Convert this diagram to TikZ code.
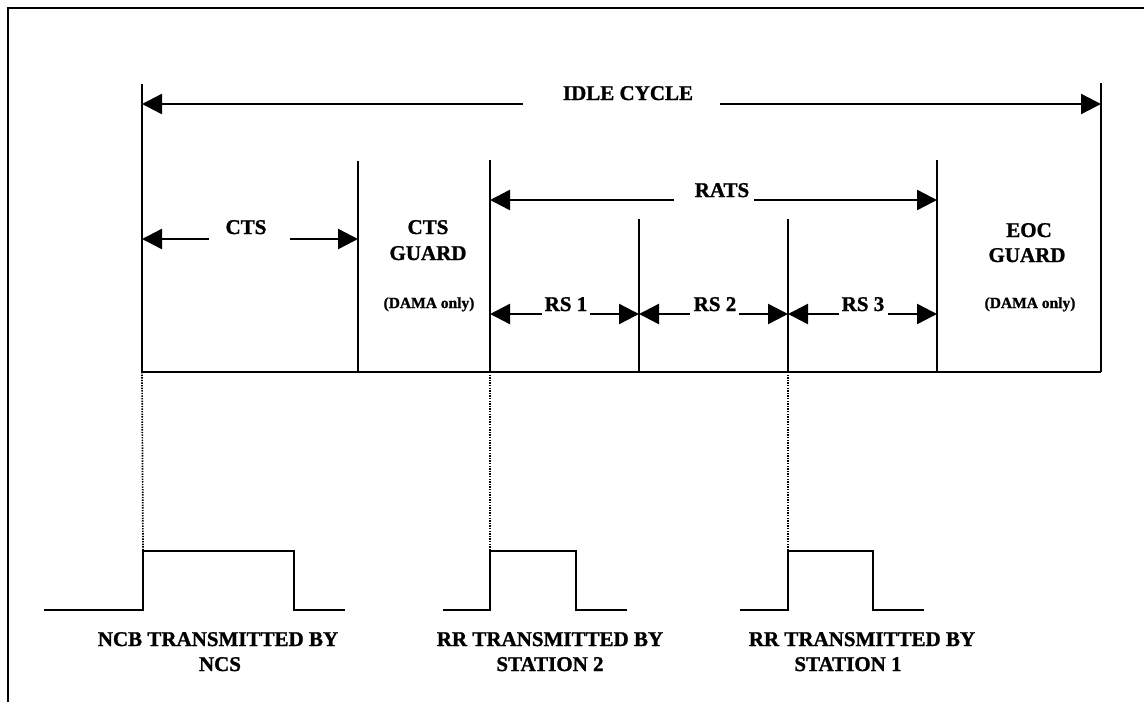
\documentclass[tikz,border=0pt]{standalone}
\usepackage{fontspec}
\setmainfont{Liberation Serif}[BoldFeatures={FakeBold=1.2}]
\usetikzlibrary{arrows.meta}
\begin{document}
\begin{tikzpicture}[x=1pt,y=-1pt,
  ln/.style={line width=2.4pt},
  dimarr/.style={line width=2.4pt,-{Triangle[length=20pt,width=20pt]}},
  dotline/.style={line width=1.7pt,dash pattern=on 1.4pt off 1.2pt},
  pulse/.style={line width=2.4pt,line join=miter},
  lbl/.style={font=\bfseries\fontsize{21}{24}\selectfont,inner sep=0pt,anchor=base},
  smalllbl/.style={font=\bfseries\fontsize{15.5}{18}\selectfont,inner sep=0pt,anchor=base}]
\useasboundingbox (0,0) rectangle (1144,702);
% frame (left and top edges)
\coordinate (fBL) at (8,702);
\coordinate (fTL) at (8,8);
\coordinate (fTR) at (1144,8);
\draw[ln,line join=miter] (fBL) -- (fTL) -- (fTR);
% division lines
\coordinate (t0) at (142,84);  \coordinate (b0) at (142,372);
\coordinate (t1) at (358,161); \coordinate (b1) at (358,372);
\coordinate (t2) at (490,160); \coordinate (b2) at (490,372);
\coordinate (t3) at (639,219); \coordinate (b3) at (639,372);
\coordinate (t4) at (788,219); \coordinate (b4) at (788,372);
\coordinate (t5) at (937,160); \coordinate (b5) at (937,372);
\coordinate (t6) at (1101,83); \coordinate (b6) at (1101,372);
\foreach \i in {0,...,6} {\draw[ln] (t\i) -- (b\i);}
\draw[ln] (b0) -- (b6);
% IDLE CYCLE
\node[lbl] (idle) at (628,100) {IDLE CYCLE};
\coordinate (iL) at (142,104); \coordinate (iLe) at (523,104);
\coordinate (iR) at (1101,104); \coordinate (iRe) at (720,104);
\draw[dimarr] (iLe) -- (iL);
\draw[dimarr] (iRe) -- (iR);
% RATS
\node[lbl] (rats) at (722,197) {RATS};
\coordinate (rL) at (490,200); \coordinate (rLe) at (674,200);
\coordinate (rR) at (937,200); \coordinate (rRe) at (754,200);
\draw[dimarr] (rLe) -- (rL);
\draw[dimarr] (rRe) -- (rR);
% CTS
\node[lbl] (cts) at (246,234) {CTS};
\coordinate (cL) at (142,239); \coordinate (cLe) at (209,239);
\coordinate (cR) at (358,239); \coordinate (cRe) at (290,239);
\draw[dimarr] (cLe) -- (cL);
\draw[dimarr] (cRe) -- (cR);
% CTS GUARD
\node[lbl] (cg1) at (428,234) {CTS};
\node[lbl] (cg2) at (428,260) {GUARD};
\node[smalllbl] (cg3) at (429,308) {(DAMA only)};
% EOC GUARD
\node[lbl] (eg1) at (1029,237) {EOC};
\node[lbl] (eg2) at (1027,262) {GUARD};
\node[smalllbl] (eg3) at (1030,308) {(DAMA only)};
% RS 1..3
\node[lbl] (rs1) at (566,311) {RS 1};
\node[lbl] (rs2) at (715,311) {RS 2};
\node[lbl] (rs3) at (863,311) {RS 3};
\coordinate (s1L) at (490,314); \coordinate (s1Le) at (542,314);
\coordinate (s1R) at (639,314); \coordinate (s1Re) at (590,314);
\coordinate (s2L) at (639,314); \coordinate (s2Le) at (690,314);
\coordinate (s2R) at (788,314); \coordinate (s2Re) at (739,314);
\coordinate (s3L) at (788,314); \coordinate (s3Le) at (839,314);
\coordinate (s3R) at (937,314); \coordinate (s3Re) at (888,314);
\foreach \i in {1,2,3} {
  \draw[dimarr] (s\i Le) -- (s\i L);
  \draw[dimarr] (s\i Re) -- (s\i R);
}
% pulses
\coordinate (p1a) at (44,610);  \coordinate (p1b) at (143,610); \coordinate (p1c) at (143,551);
\coordinate (p1d) at (294,551); \coordinate (p1e) at (294,610); \coordinate (p1f) at (345,610);
\draw[pulse] (p1a) -- (p1b) -- (p1c) -- (p1d) -- (p1e) -- (p1f);
\coordinate (p2a) at (443,610); \coordinate (p2b) at (490,610); \coordinate (p2c) at (490,551);
\coordinate (p2d) at (576,551); \coordinate (p2e) at (576,610); \coordinate (p2f) at (627,610);
\draw[pulse] (p2a) -- (p2b) -- (p2c) -- (p2d) -- (p2e) -- (p2f);
\coordinate (p3a) at (740,610); \coordinate (p3b) at (788,610); \coordinate (p3c) at (788,551);
\coordinate (p3d) at (873,551); \coordinate (p3e) at (873,610); \coordinate (p3f) at (924,610);
\draw[pulse] (p3a) -- (p3b) -- (p3c) -- (p3d) -- (p3e) -- (p3f);
% dotted projections
\draw[dotline] (b0) -- (p1c);
\draw[dotline] (b2) -- (p2c);
\draw[dotline] (b4) -- (p3c);
% bottom labels
\node[lbl] (ncb1) at (218,646) {NCB TRANSMITTED BY};
\node[lbl] (ncb2) at (220,671) {NCS};
\node[lbl] (rr2a) at (550,646) {RR TRANSMITTED BY};
\node[lbl] (rr2b) at (550,671) {STATION 2};
\node[lbl] (rr1a) at (862,646) {RR TRANSMITTED BY};
\node[lbl] (rr1b) at (848,671) {STATION 1};
\end{tikzpicture}
\end{document}
